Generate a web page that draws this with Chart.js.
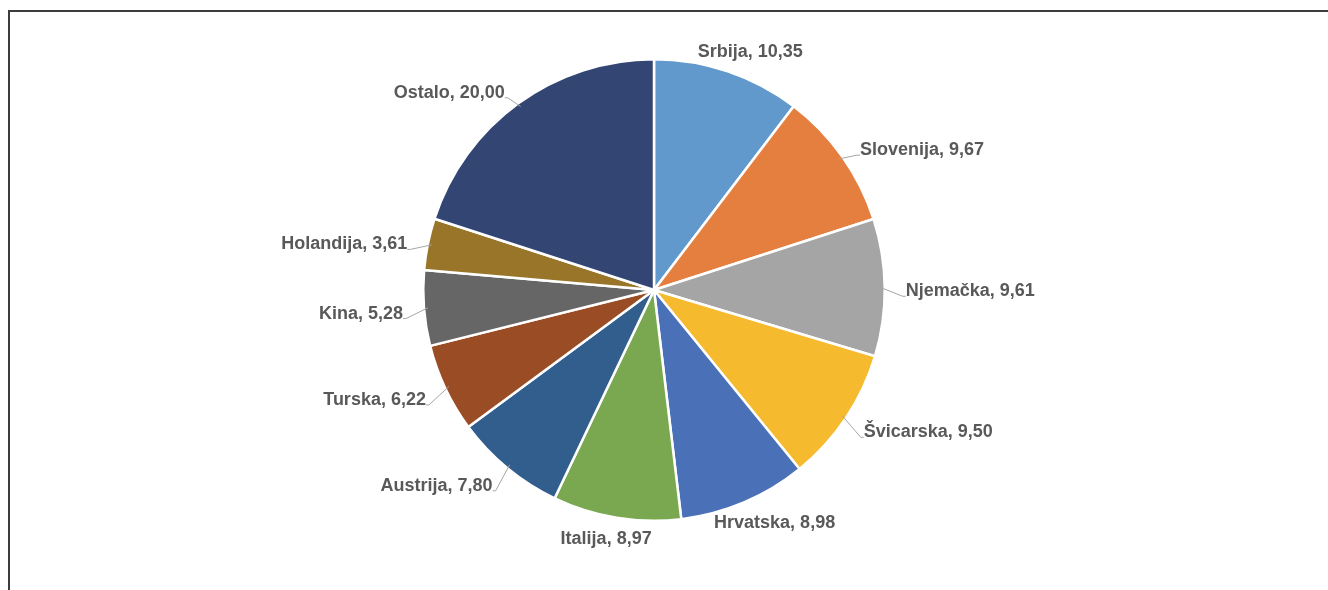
<!DOCTYPE html>
<html>
<head>
<meta charset="utf-8">
<script src="https://cdn.jsdelivr.net/npm/chart.js@4.4.1/dist/chart.umd.min.js"></script>
<style>
    html, body { margin: 0; padding: 0; background: #fff; overflow: hidden; }
    #wrap { position: relative; width: 1328px; height: 590px; }
    #frame { position: absolute; left: 8px; top: 10px; width: 1340px; height: 600px; border: 2px solid #3c3c3c; box-sizing: border-box; }
    canvas { position: absolute; left: 0; top: 0; }
</style>
</head>
<body>
<div id="wrap">
    <div id="frame"></div>
    <canvas id="pieChart" width="1328" height="590"></canvas>
</div>
<script>
const countries = ['Srbija', 'Slovenija', 'Njemačka', 'Švicarska', 'Hrvatska', 'Italija', 'Austrija', 'Turska', 'Kina', 'Holandija', 'Ostalo'];
const shares = [10.35, 9.67, 9.61, 9.50, 8.98, 8.97, 7.80, 6.22, 5.28, 3.61, 20.00];
const sliceColors = ['#6199cd', '#e57f3f', '#a5a5a5', '#f5ba2e', '#4a71b8', '#7aa850', '#325e8e', '#9a4c24', '#666666', '#987529', '#334572'];

const formatValue = v => v.toFixed(2).replace('.', ',');

// outside labels with leader lines, placed from each arc's own geometry
const outsideLabels = {
    id: 'outsideLabels',
    afterDraw(chart) {
        const ctx = chart.ctx;
        const arcs = chart.getDatasetMeta(0).data;
        ctx.save();
        ctx.font = 'bold 18px "Liberation Sans", Arial, sans-serif';
        ctx.textBaseline = 'middle';
        arcs.forEach((arc, i) => {
            const mid = (arc.startAngle + arc.endAngle) / 2;
            const cx = arc.x, cy = arc.y, r = arc.outerRadius;
            const dx = Math.cos(mid), dy = Math.sin(mid);
            const gap = 18;
            const px = cx + (r + gap) * dx;
            const py = cy + (r + gap) * dy;
            const text = `${countries[i]}, ${formatValue(shares[i])}`;
            const w = ctx.measureText(text).width;
            const h = 18;
            let left, ty = py + 4;
            if (Math.abs(dx) > 0.5) {
                left = dx > 0 ? px + 3 : px - w - 3;
                // leader line
                ctx.strokeStyle = '#a6a6a6';
                ctx.lineWidth = 1;
                ctx.beginPath();
                ctx.moveTo(cx + (r - 4) * dx, cy + (r - 4) * dy);
                ctx.lineTo(px, ty + 5);
                ctx.lineTo(dx > 0 ? px + 3 : px - 3, ty + 5);
                ctx.stroke();
            } else {
                left = px - w * (1 - dx) / 2;
                if (dy < 0) ty += (h / 2) * dy * (1 - Math.abs(dx));
            }
            ctx.fillStyle = '#595959';
            ctx.textAlign = 'left';
            ctx.fillText(text, left, ty);
        });
        ctx.restore();
    }
};

const ctx = document.getElementById('pieChart').getContext('2d');
new Chart(ctx, {
    type: 'pie',
    data: {
        labels: countries,
        datasets: [{
            data: shares,
            backgroundColor: sliceColors,
            borderColor: '#ffffff',
            borderWidth: 2.5
        }]
    },
    options: {
        responsive: false,
        animation: false,
        layout: {
            padding: { left: 422, right: 442, top: 58, bottom: 68 }
        },
        plugins: {
            legend: { display: false },
            tooltip: { enabled: false }
        }
    },
    plugins: [outsideLabels]
});
</script>
</body>
</html>
